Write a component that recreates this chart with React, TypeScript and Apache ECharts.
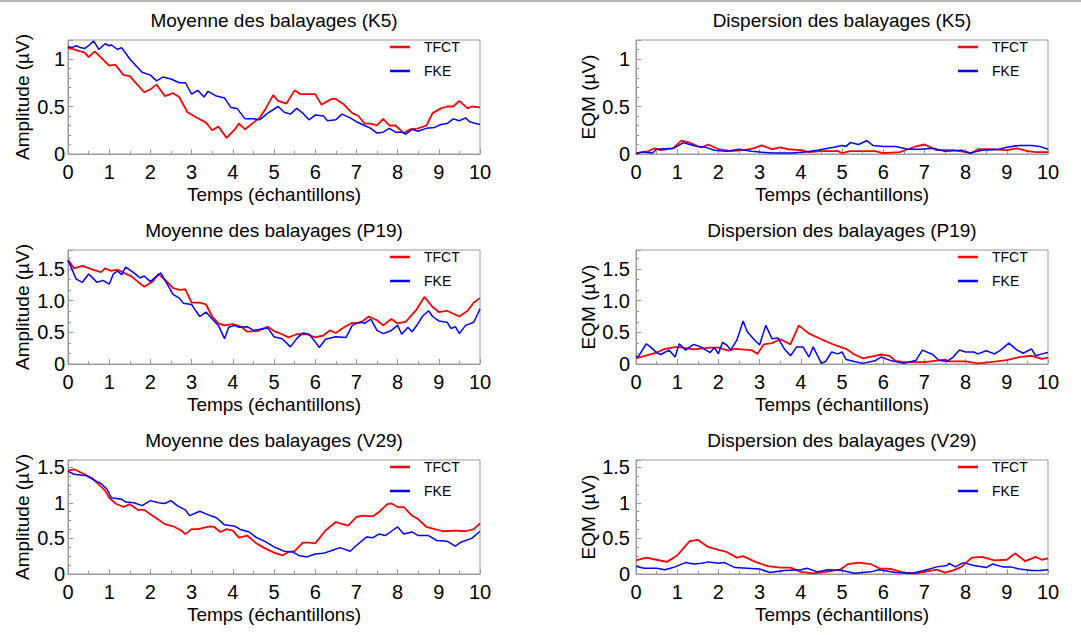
import React, { useEffect, useRef } from 'react';
import * as echarts from 'echarts';

type Pt = [number, number];

const xTickMax = 10;
const legendNames = ['TFCT', 'FKE'];
const xName = 'Temps (échantillons)';

// K5 — moyenne
const k5MeanTFCT: Pt[] = [
  [0, 1.12], [0.3, 1.08], [0.4, 1.07], [0.5, 1.02], [0.65, 1.08], [1.0, 0.93], [1.15, 0.94], [1.35, 0.83],
  [1.5, 0.82], [1.6, 0.77], [1.85, 0.65], [2.0, 0.68], [2.15, 0.73], [2.35, 0.61], [2.55, 0.64], [2.7, 0.6],
  [2.9, 0.44], [3.1, 0.39], [3.35, 0.33], [3.5, 0.25], [3.65, 0.29], [3.85, 0.17], [4.05, 0.26], [4.15, 0.32],
  [4.3, 0.26], [4.5, 0.33], [4.65, 0.38], [4.8, 0.48], [4.98, 0.62], [5.1, 0.56], [5.3, 0.53], [5.5, 0.67],
  [5.65, 0.63], [6.0, 0.63], [6.15, 0.52], [6.4, 0.58], [6.5, 0.58], [6.7, 0.52], [6.9, 0.43], [7.05, 0.4],
  [7.2, 0.32], [7.35, 0.32], [7.5, 0.3], [7.65, 0.37], [7.8, 0.3], [7.95, 0.3], [8.15, 0.22], [8.3, 0.26],
  [8.5, 0.27], [8.7, 0.3], [8.85, 0.43], [9.05, 0.48], [9.2, 0.5], [9.35, 0.5], [9.5, 0.56], [9.7, 0.48],
  [9.8, 0.5], [10, 0.49],
];
const k5MeanFKE: Pt[] = [
  [0, 1.13], [0.1, 1.12], [0.2, 1.14], [0.3, 1.12], [0.4, 1.11], [0.5, 1.14], [0.62, 1.19], [0.75, 1.1],
  [0.9, 1.16], [1.0, 1.14], [1.05, 1.15], [1.2, 1.1], [1.3, 1.12], [1.4, 1.06], [1.5, 1.0], [1.65, 0.93],
  [1.8, 0.86], [2.0, 0.83], [2.15, 0.77], [2.3, 0.81], [2.5, 0.79], [2.7, 0.75], [2.85, 0.75], [3.0, 0.63],
  [3.15, 0.67], [3.3, 0.6], [3.4, 0.66], [3.6, 0.61], [3.8, 0.59], [3.95, 0.49], [4.1, 0.48], [4.3, 0.37],
  [4.5, 0.37], [4.65, 0.36], [4.85, 0.43], [5.1, 0.5], [5.25, 0.44], [5.4, 0.42], [5.55, 0.48], [5.7, 0.43],
  [5.85, 0.36], [6.0, 0.41], [6.2, 0.4], [6.3, 0.35], [6.5, 0.36], [6.65, 0.42], [6.85, 0.38], [7.0, 0.34],
  [7.2, 0.3], [7.35, 0.27], [7.5, 0.22], [7.65, 0.23], [7.8, 0.27], [7.95, 0.23], [8.1, 0.23], [8.2, 0.21],
  [8.35, 0.26], [8.5, 0.24], [8.7, 0.27], [8.9, 0.28], [9.05, 0.31], [9.2, 0.32], [9.35, 0.37], [9.5, 0.35],
  [9.65, 0.38], [9.75, 0.34], [9.9, 0.32], [10, 0.31],
];

// K5 — dispersion
const k5DispTFCT: Pt[] = [
  [0, 0.01], [0.3, 0.03], [0.45, 0.06], [0.6, 0.04], [0.9, 0.06], [1.1, 0.14], [1.3, 0.12], [1.5, 0.08],
  [1.6, 0.07], [1.75, 0.1], [2.0, 0.05], [2.3, 0.03], [2.6, 0.04], [2.85, 0.06], [3.05, 0.09], [3.3, 0.05],
  [3.5, 0.07], [3.7, 0.05], [4.0, 0.04], [4.2, 0.02], [4.5, 0.03], [4.9, 0.03], [5.0, 0.01], [5.2, 0.03],
  [5.8, 0.03], [6.0, 0.01], [6.4, 0.02], [6.6, 0.05], [6.8, 0.08], [7.0, 0.1], [7.15, 0.07], [7.3, 0.04],
  [7.7, 0.04], [8.0, 0.02], [8.15, 0.01], [8.3, 0.05], [8.6, 0.05], [9.0, 0.04], [9.25, 0.06], [9.5, 0.03],
  [9.7, 0.02], [10, 0.02],
];
const k5DispFKE: Pt[] = [
  [0, 0.0], [0.15, 0.02], [0.4, 0.01], [0.5, 0.05], [0.9, 0.06], [1.0, 0.08], [1.15, 0.12], [1.3, 0.1],
  [1.5, 0.08], [1.7, 0.07], [1.9, 0.04], [2.2, 0.03], [2.5, 0.05], [2.8, 0.03], [3.0, 0.02], [3.3, 0.01],
  [3.8, 0.01], [4.1, 0.02], [4.4, 0.04], [4.8, 0.07], [5.0, 0.09], [5.1, 0.08], [5.2, 0.12], [5.4, 0.1],
  [5.6, 0.14], [5.75, 0.09], [6.0, 0.08], [6.3, 0.08], [6.6, 0.05], [6.9, 0.05], [7.2, 0.06], [7.5, 0.03],
  [7.9, 0.04], [8.1, 0.01], [8.4, 0.04], [8.8, 0.05], [9.0, 0.07], [9.3, 0.09], [9.6, 0.09], [9.8, 0.08],
  [10, 0.05],
];

// P19 — moyenne
const p19MeanTFCT: Pt[] = [
  [0, 1.64], [0.15, 1.51], [0.35, 1.55], [0.6, 1.49], [0.8, 1.45], [0.9, 1.51], [1.05, 1.47], [1.2, 1.49],
  [1.35, 1.44], [1.55, 1.38], [1.75, 1.27], [1.85, 1.22], [2.05, 1.3], [2.2, 1.42], [2.4, 1.3], [2.55, 1.2],
  [2.7, 1.17], [2.85, 1.18], [3.0, 0.97], [3.2, 0.97], [3.35, 0.94], [3.5, 0.75], [3.65, 0.64], [3.8, 0.61],
  [4.0, 0.63], [4.2, 0.59], [4.35, 0.51], [4.6, 0.52], [4.85, 0.59], [5.0, 0.52], [5.2, 0.47], [5.35, 0.42],
  [5.55, 0.47], [5.8, 0.47], [6.0, 0.42], [6.2, 0.45], [6.35, 0.53], [6.5, 0.49], [6.7, 0.58], [6.9, 0.65],
  [7.1, 0.65], [7.3, 0.75], [7.5, 0.69], [7.65, 0.61], [7.85, 0.71], [8.0, 0.64], [8.2, 0.67], [8.45, 0.85],
  [8.65, 1.06], [8.85, 0.9], [9.0, 0.82], [9.2, 0.84], [9.5, 0.75], [9.7, 0.84], [9.85, 0.97], [10, 1.04],
];
const p19MeanFKE: Pt[] = [
  [0, 1.64], [0.1, 1.49], [0.2, 1.34], [0.35, 1.29], [0.5, 1.42], [0.6, 1.36], [0.7, 1.29], [0.85, 1.32],
  [1.0, 1.26], [1.1, 1.42], [1.2, 1.47], [1.3, 1.41], [1.4, 1.53], [1.6, 1.44], [1.75, 1.36], [1.85, 1.39],
  [2.0, 1.3], [2.15, 1.39], [2.25, 1.44], [2.4, 1.27], [2.55, 1.1], [2.7, 1.04], [2.8, 0.96], [3.0, 0.94],
  [3.1, 0.84], [3.2, 0.75], [3.35, 0.82], [3.5, 0.71], [3.65, 0.61], [3.8, 0.4], [3.9, 0.58], [4.05, 0.61],
  [4.15, 0.58], [4.35, 0.59], [4.5, 0.53], [4.85, 0.57], [5.0, 0.43], [5.2, 0.4], [5.4, 0.27], [5.55, 0.4],
  [5.7, 0.49], [5.85, 0.47], [6.0, 0.35], [6.1, 0.26], [6.25, 0.39], [6.5, 0.43], [6.75, 0.42], [6.9, 0.61],
  [7.1, 0.67], [7.2, 0.64], [7.35, 0.71], [7.5, 0.53], [7.65, 0.48], [7.85, 0.53], [8.0, 0.61], [8.1, 0.47],
  [8.25, 0.58], [8.35, 0.51], [8.5, 0.64], [8.6, 0.75], [8.75, 0.84], [8.85, 0.75], [9.0, 0.68], [9.2, 0.66],
  [9.3, 0.56], [9.4, 0.59], [9.5, 0.48], [9.65, 0.61], [9.85, 0.66], [10, 0.87],
];

// P19 — dispersion
const p19DispTFCT: Pt[] = [
  [0, 0.09], [0.5, 0.18], [0.7, 0.24], [1.0, 0.27], [1.4, 0.23], [1.8, 0.26], [2.0, 0.26], [2.25, 0.21],
  [2.4, 0.24], [2.8, 0.22], [2.95, 0.16], [3.1, 0.31], [3.3, 0.33], [3.5, 0.39], [3.75, 0.31], [3.95, 0.61],
  [4.2, 0.48], [4.5, 0.39], [4.75, 0.32], [5.0, 0.26], [5.1, 0.24], [5.3, 0.15], [5.5, 0.09], [5.8, 0.13],
  [5.95, 0.15], [6.15, 0.13], [6.3, 0.05], [6.5, 0.03], [7.0, 0.03], [7.5, 0.07], [7.6, 0.04], [8.0, 0.04],
  [8.3, 0.01], [8.6, 0.03], [9.0, 0.06], [9.3, 0.11], [9.6, 0.13], [9.85, 0.08], [10, 0.1],
];
const p19DispFKE: Pt[] = [
  [0, 0.13], [0.05, 0.11], [0.25, 0.32], [0.35, 0.27], [0.5, 0.18], [0.6, 0.15], [0.8, 0.22], [0.95, 0.11],
  [1.05, 0.32], [1.2, 0.22], [1.4, 0.31], [1.6, 0.26], [1.8, 0.18], [1.9, 0.26], [2.0, 0.16], [2.1, 0.34],
  [2.2, 0.3], [2.3, 0.22], [2.45, 0.38], [2.6, 0.68], [2.7, 0.51], [2.85, 0.4], [3.0, 0.3], [3.15, 0.61],
  [3.3, 0.4], [3.45, 0.41], [3.6, 0.24], [3.75, 0.13], [3.9, 0.27], [4.05, 0.27], [4.2, 0.11], [4.3, 0.27],
  [4.5, 0.01], [4.6, 0.04], [4.75, 0.19], [4.9, 0.16], [5.0, 0.19], [5.1, 0.07], [5.3, 0.04], [5.5, 0.01],
  [5.8, 0.05], [5.95, 0.11], [6.2, 0.05], [6.5, 0.01], [6.8, 0.06], [6.95, 0.22], [7.2, 0.15], [7.35, 0.06],
  [7.55, 0.04], [7.7, 0.11], [7.85, 0.22], [8.0, 0.19], [8.2, 0.19], [8.3, 0.16], [8.5, 0.21], [8.7, 0.16],
  [8.85, 0.22], [9.05, 0.33], [9.25, 0.22], [9.4, 0.17], [9.6, 0.24], [9.7, 0.13], [9.85, 0.16], [10, 0.18],
];

// V29 — moyenne
const v29MeanTFCT: Pt[] = [
  [0, 1.45], [0.15, 1.47], [0.4, 1.4], [0.6, 1.34], [0.9, 1.17], [1.0, 1.07], [1.15, 0.99], [1.35, 0.94],
  [1.5, 0.98], [1.7, 0.9], [1.85, 0.9], [2.0, 0.84], [2.2, 0.76], [2.35, 0.7], [2.55, 0.67], [2.75, 0.61],
  [2.85, 0.56], [3.0, 0.63], [3.15, 0.63], [3.45, 0.67], [3.55, 0.66], [3.7, 0.59], [3.85, 0.63], [4.0, 0.61],
  [4.15, 0.51], [4.35, 0.54], [4.55, 0.44], [4.75, 0.37], [5.0, 0.3], [5.2, 0.26], [5.35, 0.31], [5.5, 0.32],
  [5.7, 0.44], [5.85, 0.44], [6.0, 0.43], [6.25, 0.61], [6.5, 0.73], [6.6, 0.71], [6.8, 0.68], [7.0, 0.8],
  [7.15, 0.82], [7.4, 0.81], [7.55, 0.87], [7.75, 0.98], [7.85, 0.99], [8.0, 0.94], [8.15, 0.94], [8.35, 0.82],
  [8.5, 0.77], [8.7, 0.66], [8.9, 0.63], [9.1, 0.6], [9.4, 0.61], [9.65, 0.6], [9.85, 0.63], [10, 0.71],
];
const v29MeanFKE: Pt[] = [
  [0, 1.44], [0.15, 1.4], [0.45, 1.38], [0.65, 1.31], [0.8, 1.27], [0.95, 1.19], [1.05, 1.07], [1.3, 1.05],
  [1.4, 1.01], [1.6, 1.0], [1.8, 0.96], [2.0, 1.03], [2.2, 1.0], [2.35, 0.99], [2.5, 1.03], [2.65, 0.96],
  [2.85, 0.9], [2.95, 0.82], [3.2, 0.88], [3.45, 0.82], [3.6, 0.79], [3.8, 0.69], [4.05, 0.67], [4.2, 0.62],
  [4.4, 0.59], [4.55, 0.52], [4.8, 0.45], [5.0, 0.38], [5.25, 0.32], [5.45, 0.31], [5.6, 0.26], [5.8, 0.24],
  [6.0, 0.28], [6.2, 0.29], [6.4, 0.33], [6.6, 0.37], [6.85, 0.32], [7.0, 0.4], [7.25, 0.52], [7.4, 0.51],
  [7.55, 0.56], [7.7, 0.54], [7.85, 0.6], [8.0, 0.66], [8.15, 0.56], [8.35, 0.59], [8.5, 0.54], [8.75, 0.54],
  [8.95, 0.47], [9.2, 0.46], [9.4, 0.39], [9.55, 0.45], [9.8, 0.5], [10, 0.6],
];

// V29 — dispersion
const v29DispTFCT: Pt[] = [
  [0, 0.19], [0.25, 0.23], [0.5, 0.2], [0.75, 0.17], [1.0, 0.26], [1.15, 0.36], [1.3, 0.46], [1.5, 0.48],
  [1.75, 0.38], [2.0, 0.34], [2.2, 0.31], [2.45, 0.23], [2.6, 0.25], [2.9, 0.17], [3.2, 0.11], [3.5, 0.09],
  [3.75, 0.09], [4.0, 0.03], [4.3, 0.01], [4.6, 0.03], [4.95, 0.06], [5.15, 0.14], [5.4, 0.16], [5.7, 0.14],
  [5.9, 0.08], [6.2, 0.07], [6.5, 0.02], [6.8, 0.01], [7.0, 0.03], [7.3, 0.06], [7.5, 0.02], [7.7, 0.05],
  [7.9, 0.1], [8.15, 0.23], [8.4, 0.24], [8.7, 0.19], [9.0, 0.2], [9.2, 0.29], [9.45, 0.18], [9.7, 0.24],
  [9.85, 0.2], [10, 0.22],
];
const v29DispFKE: Pt[] = [
  [0, 0.11], [0.2, 0.08], [0.5, 0.08], [0.7, 0.06], [0.9, 0.09], [1.2, 0.16], [1.4, 0.14], [1.6, 0.15],
  [1.75, 0.17], [2.0, 0.15], [2.15, 0.16], [2.4, 0.09], [2.7, 0.08], [3.0, 0.07], [3.25, 0.02], [3.6, 0.05],
  [4.0, 0.06], [4.15, 0.08], [4.4, 0.03], [4.65, 0.06], [5.0, 0.05], [5.3, 0.01], [5.7, 0.03], [5.9, 0.06],
  [6.3, 0.02], [6.7, 0.01], [7.0, 0.05], [7.3, 0.1], [7.55, 0.12], [7.6, 0.15], [7.75, 0.1], [7.95, 0.16],
  [8.2, 0.12], [8.5, 0.09], [8.65, 0.14], [8.9, 0.1], [9.1, 0.1], [9.3, 0.07], [9.6, 0.05], [9.8, 0.05],
  [10, 0.06],
];

const FONT = '"Liberation Sans", Arial, Helvetica, sans-serif';
const GRAY = '#9a9a9a';
const colLeft = [68, 636];
const rowTop = [40, 250, 460];
const W = 412;
const H = 114;

const panels = [
  { title: 'Moyenne des balayages (K5)', yName: 'Amplitude (µV)', yMax: 1.2, minor: 5, oneDecimal: false, tfct: k5MeanTFCT, fke: k5MeanFKE },
  { title: 'Dispersion des balayages (K5)', yName: 'EQM (µV)', yMax: 1.2, minor: 5, oneDecimal: false, tfct: k5DispTFCT, fke: k5DispFKE },
  { title: 'Moyenne des balayages (P19)', yName: 'Amplitude (µV)', yMax: 1.8, minor: 3, oneDecimal: true, tfct: p19MeanTFCT, fke: p19MeanFKE },
  { title: 'Dispersion des balayages (P19)', yName: 'EQM (µV)', yMax: 1.8, minor: 3, oneDecimal: true, tfct: p19DispTFCT, fke: p19DispFKE },
  { title: 'Moyenne des balayages (V29)', yName: 'Amplitude (µV)', yMax: 1.6, minor: 4, oneDecimal: false, tfct: v29MeanTFCT, fke: v29MeanFKE },
  { title: 'Dispersion des balayages (V29)', yName: 'EQM (µV)', yMax: 1.6, minor: 4, oneDecimal: false, tfct: v29DispTFCT, fke: v29DispFKE },
];

function buildOption() {
  const grid: any[] = [];
  const xAxis: any[] = [];
  const yAxis: any[] = [];
  const series: any[] = [];
  const title: any[] = [];
  const legend: any[] = [];

  panels.forEach((p, i) => {
    const r = Math.floor(i / 2);
    const c = i % 2;
    const left = colLeft[c];
    const top = rowTop[r];
    grid.push({
      left, top, width: W, height: H, show: true, borderColor: GRAY, borderWidth: 1,
      backgroundColor: 'transparent', containLabel: false, outerBoundsMode: 'none',
    });
    title.push({
      text: p.title, left: left + W / 2, top: top - 29, textAlign: 'center', padding: 0,
      textStyle: { fontFamily: FONT, fontSize: 19, fontWeight: 'normal', color: '#000' },
    });
    legend.push({
      left: left + 322, top: top, orient: 'vertical', padding: 0, itemWidth: 20, itemHeight: 2.5, itemGap: 10,
      icon: 'rect',
      data: legendNames, selectedMode: false,
      textStyle: { fontFamily: FONT, fontSize: 14, color: '#000', padding: [0, 0, 0, 9] },
    });
    xAxis.push({
      gridIndex: i, type: 'value', min: 0, max: xTickMax, interval: 1,
      name: xName, nameLocation: 'middle', nameGap: 31,
      nameTextStyle: { fontFamily: FONT, fontSize: 19, color: '#000' },
      axisLine: { show: true, lineStyle: { color: GRAY, width: 1 } },
      axisTick: { show: true, inside: true, length: 5, lineStyle: { color: GRAY } },
      minorTick: { show: true, splitNumber: 2, length: 3, lineStyle: { color: GRAY } },
      axisLabel: { margin: 8, fontFamily: FONT, fontSize: 20, color: '#000' },
      splitLine: { show: false },
      minorSplitLine: { show: false },
    });
    yAxis.push({
      gridIndex: i, type: 'value', min: 0, max: p.yMax, interval: 0.5,
      name: p.yName, nameLocation: 'middle', nameGap: c === 0 ? 36 : 34,
      nameTextStyle: { fontFamily: FONT, fontSize: 19, color: '#000' },
      axisLine: { show: true, lineStyle: { color: GRAY, width: 1 } },
      axisTick: { show: true, inside: true, length: 5, lineStyle: { color: GRAY } },
      minorTick: { show: true, splitNumber: p.minor, length: 3, lineStyle: { color: GRAY } },
      axisLabel: {
        margin: c === 0 ? 3 : 6, fontFamily: FONT, fontSize: 20, color: '#000', showMaxLabel: false,
        formatter: (v: number) => (v === 0 ? '0' : p.oneDecimal ? v.toFixed(1) : String(Math.round(v * 10) / 10)),
      },
      splitLine: { show: false },
      minorSplitLine: { show: false },
    });
    series.push({
      type: 'line', name: 'TFCT', xAxisIndex: i, yAxisIndex: i, data: p.tfct, symbol: 'none',
      lineStyle: { color: '#ff0000', width: 1.8 }, itemStyle: { color: '#ff0000' }, clip: true,
    });
    series.push({
      type: 'line', name: 'FKE', xAxisIndex: i, yAxisIndex: i, data: p.fke, symbol: 'none',
      lineStyle: { color: '#0000ff', width: 1.5 }, itemStyle: { color: '#0000ff' }, clip: true,
    });
  });

  return {
    animation: false,
    backgroundColor: '#ffffff',
    textStyle: { fontFamily: FONT },
    title, legend, grid, xAxis, yAxis, series,
    graphic: [
      { type: 'rect', shape: { x: 0, y: 0, width: 1081, height: 2 }, style: { fill: '#b4b4b4' }, silent: true },
    ],
  };
}

export default function App() {
  const ref = useRef<HTMLDivElement>(null);
  useEffect(() => {
    if (!ref.current) return;
    const chart = echarts.init(ref.current, undefined, { renderer: 'svg' });
    chart.setOption(buildOption() as any);
    return () => chart.dispose();
  }, []);
  return (
    <div
      ref={ref}
      style={{ position: 'absolute', left: 0, top: 0, width: 1081, height: 635, background: '#fff' }}
    />
  );
}
